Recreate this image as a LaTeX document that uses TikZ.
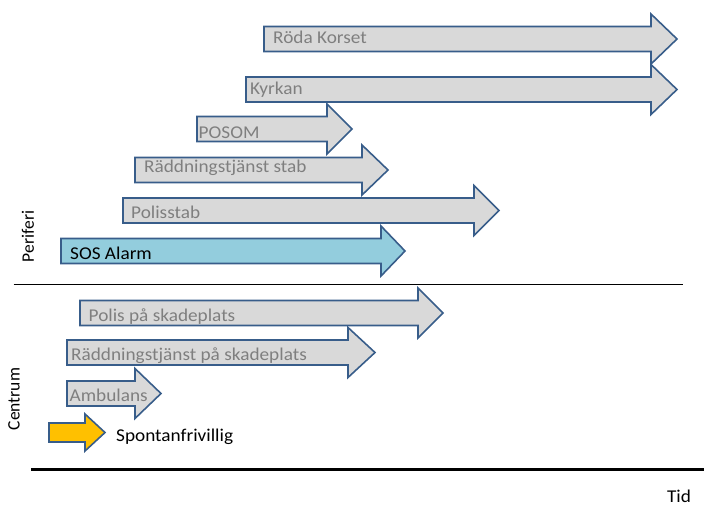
\documentclass[tikz,border=0pt]{standalone}
\usepackage{fontspec}
\setmainfont{Carlito}
\newfontfamily\barfont{Carlito}[FakeStretch=1.07]
\usepackage{tikz}

\definecolor{barline}{RGB}{56,93,138}
\definecolor{barfill}{RGB}{217,217,217}
\definecolor{bartext}{RGB}{127,127,127}
\definecolor{sosfill}{RGB}{147,205,221}
\definecolor{spontfill}{RGB}{255,192,0}

% left end, head base, tip, centre line
\newcommand{\timebar}[5][bar]{%
  \draw[#1] (#2,{#5-12.5}) -- (#3,{#5-12.5}) -- (#3,{#5-25}) -- (#4,#5)
    -- (#3,{#5+25}) -- (#3,{#5+12.5}) -- (#2,{#5+12.5}) -- cycle;}

\begin{document}
\begin{tikzpicture}[x=1pt,y=-1pt]
\tikzset{bar/.style = {draw=barline,line width=1.6pt,fill=barfill}}
\tikzset{label/.style = {anchor=base west,inner sep=0pt,text=bartext,font=\barfont\fontsize{18}{20}\selectfont}}
\tikzset{side/.style = {rotate=90,inner sep=0pt,font=\fontsize{17.5}{20}\selectfont}}
\useasboundingbox (0,0) rectangle (704,509);

% arrows
\timebar{264}{651}{677}{39}
\timebar{246}{651}{677}{89.5}
\timebar{197}{327}{352}{129}
\timebar{135}{362}{388}{170}
\timebar{123}{474}{499}{210.5}
\timebar[bar,fill=sosfill]{61}{381}{405}{251}
\timebar{80}{418}{443}{313}
\timebar{67}{348}{375}{352.5}
\timebar{67}{135}{161}{393.5}
\draw[bar,fill=spontfill] (49,423) -- (85,423) -- (85,414) -- (105,432.5)
  -- (85,451) -- (85,442) -- (49,442) -- cycle;

% labels
\node[label] (rodakorset) at (273,43) {Röda Korset};
\node[label] (kyrkan) at (250,94.5) {Kyrkan};
\node[label] (posom) at (198.5,138) {POSOM};
\node[label] (rtstab) at (144,172) {Räddningstjänst stab};
\node[label] (polisstab) at (131,218) {Polisstab};
\node[label,text=black] (sos) at (70,259) {SOS Alarm};
\node[label] (polisplats) at (88.5,321) {Polis på skadeplats};
\node[label] (rtplats) at (71,360.5) {Räddningstjänst på skadeplats};
\node[label] (ambulans) at (69.5,401) {Ambulans};
\node[label,text=black] (spontan) at (116,441.5) {Spontanfrivillig};

\node[side] (periferi) at (28,236.5) {Periferi};
\node[side] (centrum) at (14,399) {Centrum};
\node[inner sep=0pt,font=\barfont\fontsize{18}{20}\selectfont] (tid) at (679,496) {Tid};

% lines
\coordinate (divl) at (13.5,284);
\coordinate (divr) at (682.5,284);
\coordinate (axl) at (31,469);
\coordinate (axr) at (704,469);
\draw[line width=1pt] (divl) -- (divr);
\draw[line width=3pt] (axl) -- (axr);
\end{tikzpicture}
\end{document}
